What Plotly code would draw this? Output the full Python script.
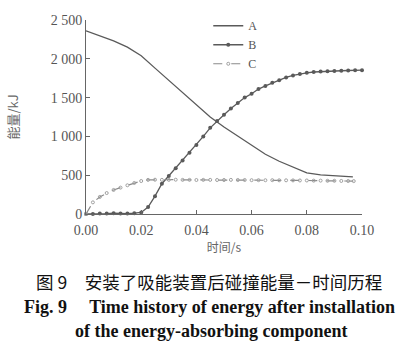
import plotly.graph_objects as go

t_a = [0, 0.005, 0.01, 0.015, 0.02, 0.025, 0.03, 0.035, 0.04, 0.045, 0.05, 0.055,
       0.06, 0.065, 0.07, 0.075, 0.08, 0.085, 0.09, 0.0967]
energy_a = [2360, 2300, 2230, 2150, 2040, 1880, 1720, 1560, 1400, 1250, 1120, 1000,
            880, 770, 680, 600, 530, 505, 490, 478]

t_b = [0, 0.0025, 0.005, 0.0075, 0.01, 0.0125, 0.015, 0.0175, 0.02, 0.0225, 0.025, 0.0275,
       0.03, 0.0325, 0.035, 0.0375, 0.04, 0.0425, 0.045, 0.0475, 0.05, 0.0525, 0.055, 0.0575,
       0.06, 0.0625, 0.065, 0.0675, 0.07, 0.0725, 0.075, 0.0775, 0.08, 0.0825, 0.085, 0.0875,
       0.09, 0.0925, 0.095, 0.0975, 0.1]
energy_b = [0, 0, 5, 5, 10, 5, 5, 10, 20, 90, 230, 390,
            490, 590, 690, 790, 890, 1000, 1110, 1200, 1280, 1360, 1430, 1500,
            1550, 1610, 1650, 1690, 1725, 1760, 1785, 1805, 1820, 1830, 1836, 1840,
            1843, 1846, 1849, 1851, 1853]

t_c = [0, 0.0025, 0.005, 0.0075, 0.01, 0.0125, 0.015, 0.0175, 0.02, 0.0225, 0.025, 0.0275,
       0.03, 0.0325, 0.035, 0.0375, 0.04, 0.0425, 0.045, 0.0475, 0.05, 0.0525, 0.055, 0.0575,
       0.06, 0.0625, 0.065, 0.0675, 0.07, 0.0725, 0.075, 0.0775, 0.08, 0.0825, 0.085, 0.0875,
       0.09, 0.0925, 0.095, 0.097]
energy_c = [0, 150, 220, 270, 310, 340, 370, 400, 425, 440, 442, 440,
            440, 442, 440, 440, 438, 440, 440, 438, 438, 440, 438, 438,
            436, 436, 435, 436, 434, 434, 433, 432, 432, 430, 430, 428,
            428, 426, 425, 424]

y_ticks = [0, 500, 1000, 1500, 2000, 2500]
y_tick_text = ["0", "500", "1 000", "1 500", "2 000", "2 500"]
x_ticks = [0, 0.02, 0.04, 0.06, 0.08, 0.10]
x_tick_text = ["0.00", "0.02", "0.04", "0.06", "0.08", "0.10"]

line_col = "#5a5a5a"
fig = go.Figure()
fig.add_trace(go.Scatter(x=t_a, y=energy_a, name="A", mode="lines",
                         line=dict(color=line_col, width=1.3), cliponaxis=False))
fig.add_trace(go.Scatter(x=t_b, y=energy_b, name="B", mode="lines+markers",
                         line=dict(color=line_col, width=1.3),
                         marker=dict(size=4, color=line_col), cliponaxis=False))
fig.add_trace(go.Scatter(x=t_c, y=energy_c, name="C", mode="lines+markers",
                         line=dict(color="#8a8a8a", width=1.2, dash="dash"),
                         marker=dict(size=3, color="#a0a0a0", symbol="circle-open"),
                         cliponaxis=False))

serif = "Liberation Serif"
cjk = "Noto Sans CJK SC"
fig.update_layout(
    width=408, height=356,
    margin=dict(l=86, r=46, t=20, b=142, autoexpand=False),
    paper_bgcolor="white", plot_bgcolor="white",
    showlegend=True,
    legend=dict(x=0.443, y=1.045, xanchor="left", yanchor="top",
                font=dict(family=serif, size=12, color="#555"),
                bgcolor="rgba(0,0,0,0)", tracegroupgap=0, itemwidth=30),
    xaxis=dict(range=[0, 0.1], tickvals=x_ticks, ticktext=x_tick_text,
               showline=True, linecolor="#666", linewidth=1, ticks="inside",
               ticklen=4, tickcolor="#666", showgrid=False, zeroline=False,
               automargin=False, ticklabelstandoff=3,
               tickfont=dict(family=serif, size=14, color="#555"),
               title=dict(text="时间/s", font=dict(family=cjk, size=12, color="#666"),
                          standoff=0)),
    yaxis=dict(range=[0, 2500], tickvals=y_ticks, ticktext=y_tick_text,
               showline=True, linecolor="#666", linewidth=1, ticks="inside",
               ticklen=4, tickcolor="#666", showgrid=False, zeroline=False,
               automargin=False,
               tickfont=dict(family=serif, size=14, color="#555"),
               title=dict(text="能量/kJ", font=dict(family=cjk, size=13, color="#666"),
                          standoff=29)),
)

cap_x = 0.446
fig.add_annotation(text="图 9　安装了吸能装置后碰撞能量－时间历程", xref="paper", yref="paper",
                   x=cap_x, y=-0.35, xanchor="center", yanchor="middle", showarrow=False,
                   font=dict(family=cjk, size=17.5, color="#111"))
fig.add_annotation(text="<b>Fig. 9　 Time history of energy after installation</b>",
                   xref="paper", yref="paper", x=cap_x, y=-0.479, xanchor="center",
                   yanchor="middle", showarrow=False,
                   font=dict(family=serif, size=18, color="#111"))
fig.add_annotation(text="<b>of the energy-absorbing component</b>",
                   xref="paper", yref="paper", x=cap_x + 0.01, y=-0.603, xanchor="center",
                   yanchor="middle", showarrow=False,
                   font=dict(family=serif, size=18, color="#111"))

fig.write_html("out.html", config={"displayModeBar": False},
               post_script="document.body.style.margin='0';")
